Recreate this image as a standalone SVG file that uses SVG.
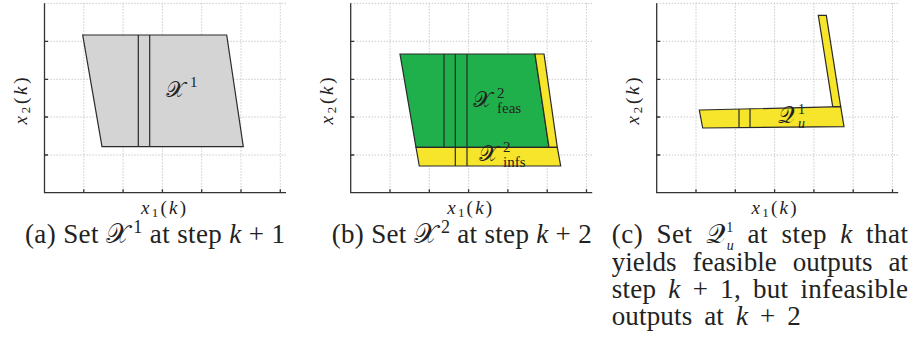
<svg xmlns="http://www.w3.org/2000/svg" xmlns:xlink="http://www.w3.org/1999/xlink" width="914" height="339" viewBox="0 0 914 339" font-family="'Liberation Serif', 'Times New Roman', serif">
<style>
.grid{stroke:#b8b8b8;stroke-width:0.9;stroke-dasharray:1.2 1.8;fill:none}
.axis{stroke:#333;stroke-width:1.3;fill:none}
.shape{stroke:#2a2a2a;stroke-width:1.2;stroke-linejoin:miter}
.div{stroke:#2a2a2a;stroke-width:1.2}
.gray{fill:#d4d4d5}
.green{fill:#20b04b}
.yellow{fill:#f6e52a}
text{font-family:'Liberation Serif','Times New Roman',serif;fill:#222}
.cap{font-size:27px}
.ax{font-size:19px}
.it{font-style:italic}
.cal{font-family:'DejaVu Serif','DejaVu Sans','Liberation Serif',serif;font-style:normal}
</style>
<defs>
<g id="axes">
<path class="grid" d="M83.8,3.3V192.7M123.1,3.3V192.7M162.4,3.3V192.7M201.7,3.3V192.7M241,3.3V192.7M280.3,3.3V192.7M44.5,3.3H286M44.5,41.3H286M44.5,79.3H286M44.5,117H286M44.5,155H286"/>
<path class="axis" d="M44.5,3.3V192.7H286"/>
<path class="axis" d="M44.5,41.3h3.5M44.5,79.3h3.5M44.5,117h3.5M44.5,155h3.5M83.8,192.7v-3.5M123.1,192.7v-3.5M162.4,192.7v-3.5M201.7,192.7v-3.5M241,192.7v-3.5M280.3,192.7v-3.5"/>
</g>
</defs>

<g id="panel-a">
<use xlink:href="#axes" href="#axes"/>
<g id="set-X1">
<polygon class="shape gray" points="82.7,35 226.7,35 243.3,146.7 102,146.7"/>
<path class="div" d="M138.3,35V146.7M149.7,35V146.7"/>
<text x="166" y="97" font-size="22"><tspan class="cal">𝒳</tspan><tspan x="190" y="87" font-size="15">1</tspan></text>
</g>
<text class="ax" x="163.5" y="214" text-anchor="middle" textLength="45" lengthAdjust="spacing"><tspan class="it">x</tspan><tspan font-size="13" dy="3">1</tspan><tspan dy="-3">(</tspan><tspan class="it">k</tspan>)</text>
<text class="ax" transform="translate(27,101) rotate(-90)" text-anchor="middle" textLength="47" lengthAdjust="spacing"><tspan class="it">x</tspan><tspan font-size="13" dy="3">2</tspan><tspan dy="-3">(</tspan><tspan class="it">k</tspan>)</text>
<text class="cap" x="25" y="243.3" textLength="260" lengthAdjust="spacing">(a) Set <tspan class="cal">𝒳</tspan><tspan dx="4" dy="-10" font-size="18">1</tspan><tspan dy="10"> at step </tspan><tspan class="it">k</tspan> + 1</text>
</g>

<g id="panel-b">
<use xlink:href="#axes" href="#axes" transform="translate(306.2,0)"/>
<g id="set-X2-feas">
<polygon class="shape green" points="400,54 535,54 549,147.3 416,147.3"/>
<polygon class="shape yellow" points="535,54 544,54 557.3,147.3 549,147.3"/>
<path class="div" d="M444,54V147.3"/>
<text x="473" y="107" font-size="22"><tspan class="cal">𝒳</tspan><tspan x="497" y="97.5" font-size="15">2</tspan><tspan x="497" y="112.5" font-size="15">feas</tspan></text>
</g>
<g id="set-X2-infs">
<polygon class="shape yellow" points="416,147.3 557.3,147.3 560.7,166 419.3,166"/>
<path class="div" d="M455.3,54V166M467,54V166"/>
<text x="479" y="161" font-size="22"><tspan class="cal">𝒳</tspan><tspan x="503" y="152" font-size="15">2</tspan><tspan x="503" y="167" font-size="15">infs</tspan></text>
</g>
<text class="ax" x="469.7" y="214" text-anchor="middle" textLength="45" lengthAdjust="spacing"><tspan class="it">x</tspan><tspan font-size="13" dy="3">1</tspan><tspan dy="-3">(</tspan><tspan class="it">k</tspan>)</text>
<text class="ax" transform="translate(333.2,101) rotate(-90)" text-anchor="middle" textLength="47" lengthAdjust="spacing"><tspan class="it">x</tspan><tspan font-size="13" dy="3">2</tspan><tspan dy="-3">(</tspan><tspan class="it">k</tspan>)</text>
<text class="cap" x="331.7" y="243.3" textLength="260" lengthAdjust="spacing">(b) Set <tspan class="cal">𝒳</tspan><tspan dx="4" dy="-10" font-size="18">2</tspan><tspan dy="10"> at step </tspan><tspan class="it">k</tspan> + 2</text>
</g>

<g id="panel-c">
<use xlink:href="#axes" href="#axes" transform="translate(612.2,0)"/>
<g id="set-Q1u">
<polygon class="shape yellow" points="818.3,15.3 826.3,15.3 840.7,106.7 832.7,106.7"/>
<polygon class="shape yellow" points="699.3,110 840.7,106.7 844,126.7 702.7,128"/>
<path class="div" d="M739,109.1V127.7M750,108.8V127.5"/>
<text x="778" y="123" font-size="23"><tspan class="cal">𝒬</tspan><tspan x="798" y="114" font-size="14">1</tspan><tspan class="it" x="798" y="128" font-size="14">u</tspan></text>
</g>
<text class="ax" x="774" y="214" text-anchor="middle" textLength="45" lengthAdjust="spacing"><tspan class="it">x</tspan><tspan font-size="13" dy="3">1</tspan><tspan dy="-3">(</tspan><tspan class="it">k</tspan>)</text>
<text class="ax" transform="translate(639.2,101) rotate(-90)" text-anchor="middle" textLength="47" lengthAdjust="spacing"><tspan class="it">x</tspan><tspan font-size="13" dy="3">2</tspan><tspan dy="-3">(</tspan><tspan class="it">k</tspan>)</text>
<text class="cap" x="611.7" y="243.3" textLength="296.3" lengthAdjust="spacing" word-spacing="6">(c) Set <tspan class="cal">𝒬</tspan><tspan dx="1" dy="-11" font-size="14">1</tspan><tspan class="it" dx="-7" dy="18" font-size="14">u</tspan><tspan dy="-7"> at step </tspan><tspan class="it">k</tspan> that</text>
<text class="cap" x="611.7" y="270.7" textLength="296.3" lengthAdjust="spacing" word-spacing="9">yields feasible outputs at</text>
<text class="cap" x="611.7" y="298.3" textLength="296.3" lengthAdjust="spacing" word-spacing="5">step <tspan class="it">k</tspan> + 1, but infeasible</text>
<text class="cap" x="611.7" y="325" textLength="189" lengthAdjust="spacing" word-spacing="5">outputs at <tspan class="it">k</tspan> + 2</text>
</g>
</svg>
